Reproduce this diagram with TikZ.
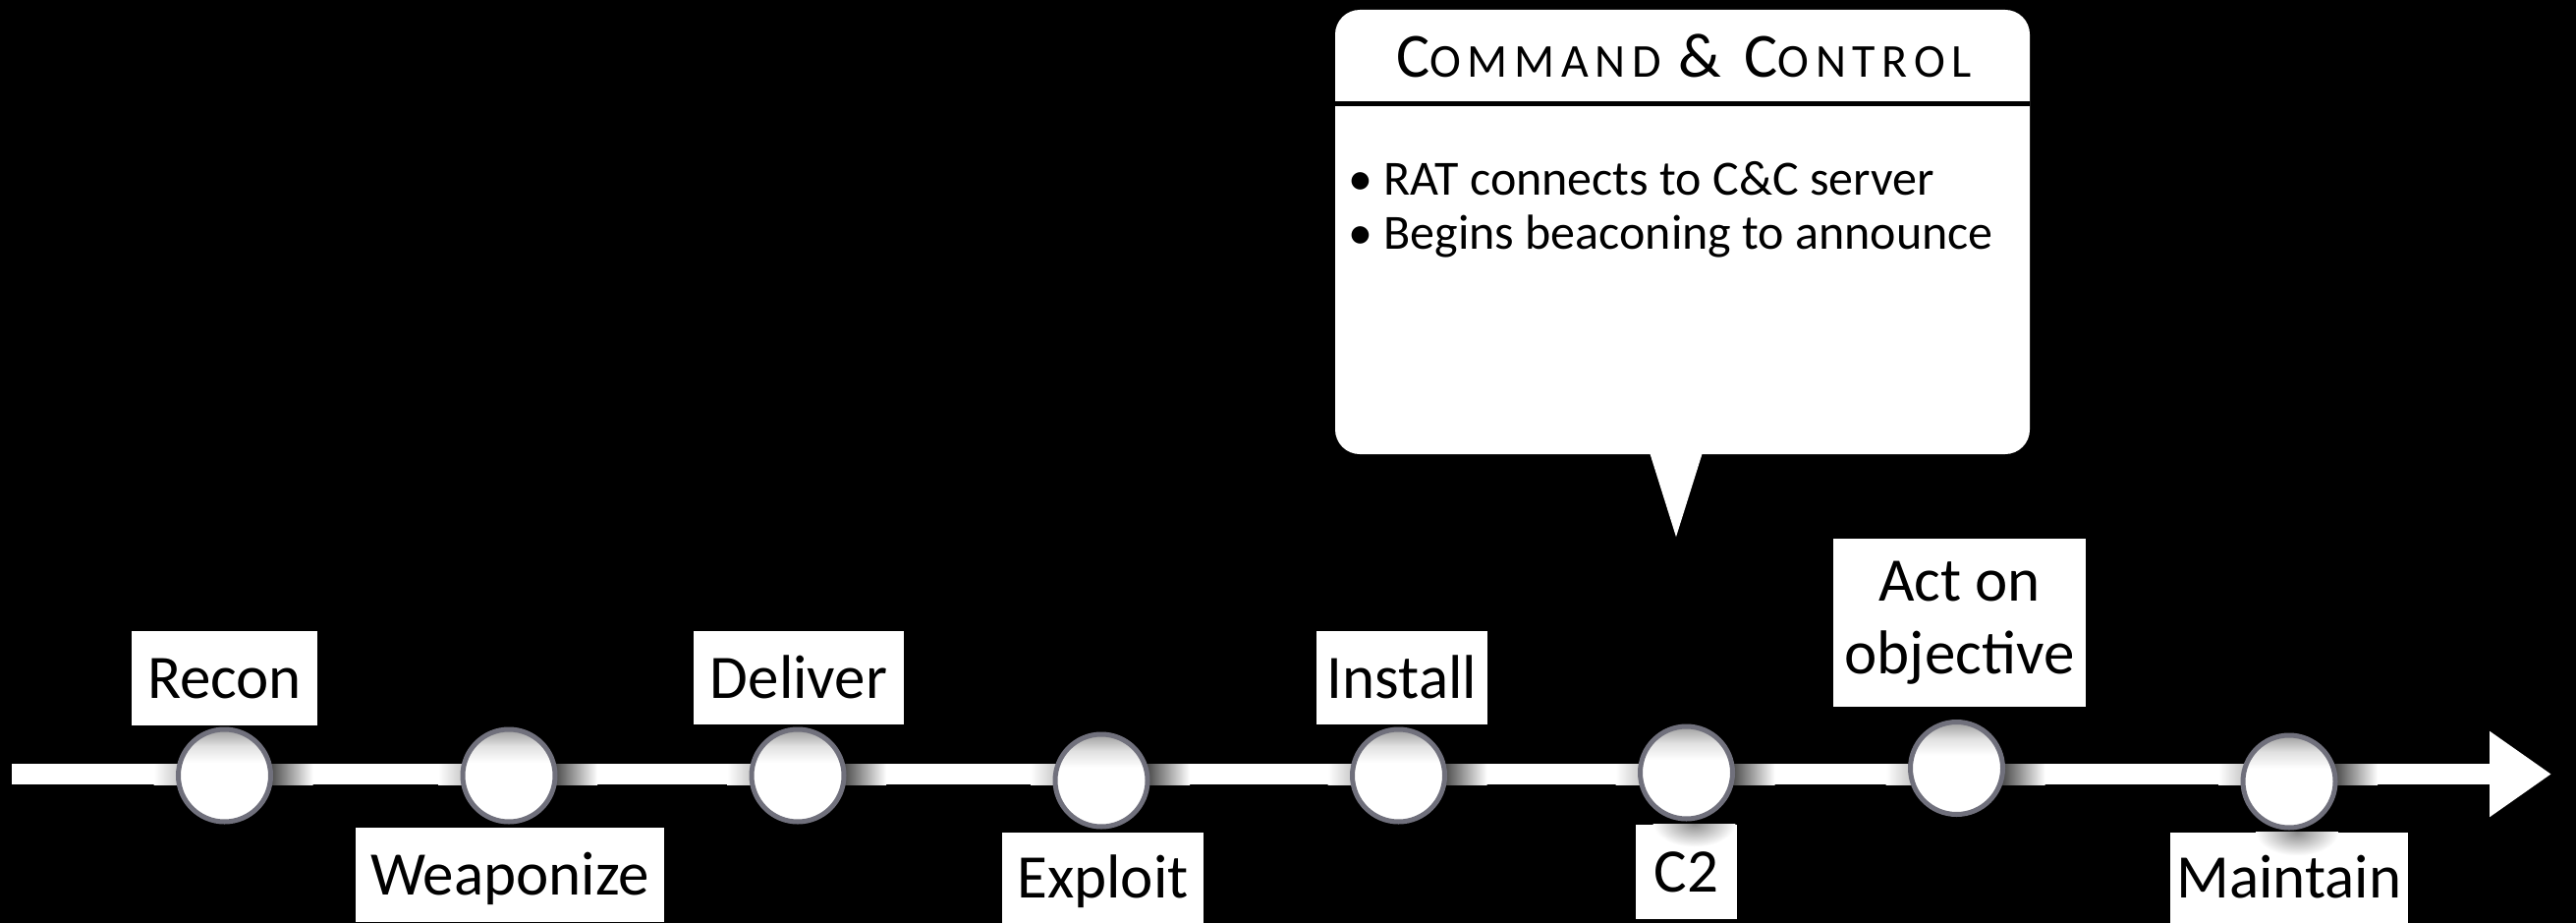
\documentclass[tikz,border=0pt]{standalone}
\usepackage{fontspec}
\setmainfont{Carlito}
\newfontfamily\titlefont[LetterSpace=14]{Carlito}
\usetikzlibrary{arrows.meta,calc}
\definecolor{ringgray}{RGB}{112,112,124}
\pgfdeclareverticalshading{circsh}{100bp}{color(0bp)=(white); color(25bp)=(white); color(57bp)=(white); color(66bp)=(black!12); color(75bp)=(black!38); color(100bp)=(black!38)}
\newcommand\lblfont{\fontsize{63}{71}\selectfont}
\newcommand\actfont{\fontsize{63}{74}\selectfont}
\newcommand\bulfont{\fontsize{50}{56}\selectfont}
\newcommand\bigcapsize{\fontsize{64}{64}\selectfont}
\newcommand\smallcapsize{\fontsize{48}{48}\selectfont}
\begin{document}
\begin{tikzpicture}[x=1pt,y=-1pt,
  lbl/.style={fill=white, inner sep=0pt, text height=41pt, text depth=0pt, font=\lblfont, text=black},
  stage/.style={circle, draw=ringgray, line width=5pt, minimum size=94pt, inner sep=0pt, shade, shading=circsh},
  bullet/.style={anchor=base west, inner sep=0pt, font=\bulfont, text=black}]
% background
\fill[black] (0,0) rectangle (2622,939);
% timeline
\coordinate (tstart) at (12,787.5);
\coordinate (tend) at (2597,787.5);
\draw[white, line width=21pt, -{Triangle[length=63pt,width=83pt]}] (tstart) -- (tend);
% stages
\foreach \n/\x/\y in {recon/228.5/789, weap/518/789, deliv/812/789, expl/1121/794, inst/1423.5/789, ctwo/1716.5/786, act/1991.5/781.5, maint/2330/795}{
  \shade[left color=black!72, right color=white] (\x+46,777) rectangle (\x+90,798);
  \shade[left color=white, right color=black!22] (\x-72,777) rectangle (\x-46,798);
  \node[stage] (\n) at (\x,\y) {};
}
% labels
\node[lbl, minimum width=189pt, minimum height=96pt] (lrecon) at (228.5,690) {Recon};
\node[lbl, minimum width=314pt, minimum height=96pt] (lweap) at (519,890) {Weaponize};
\node[lbl, minimum width=214pt, minimum height=95pt] (ldeliv) at (813,689.5) {Deliver};
\node[lbl, minimum width=205pt, minimum height=92pt] (lexpl) at (1122.5,893) {Exploit};
\node[lbl, minimum width=174pt, minimum height=95pt] (linst) at (1427,689.5) {Install};
\node[lbl, minimum width=103pt, minimum height=96pt] (lctwo) at (1716.5,887) {C2};
\node[fill=white, inner sep=0pt, minimum width=257pt, minimum height=171pt, font=\actfont, align=center, text=black] (lact) at (1994.5,633.5) {\raisebox{-9pt}{Act on}\\\raisebox{-9pt}{objective}};
\node[lbl, minimum width=242pt, minimum height=92pt] (lmaint) at (2330,893) {Maintain};
% soft shadows cast on the lower boxes
\begin{scope}
  \clip (lctwo.north west) rectangle (lctwo.south east);
  \shade[inner color=black!45, outer color=white] ($(ctwo.south)+(8,2)$) ellipse [x radius=42pt, y radius=24pt];
\end{scope}
\begin{scope}
  \clip (lmaint.north west) rectangle (lmaint.south east);
  \shade[inner color=black!45, outer color=white] ($(maint.south)+(8,2)$) ellipse [x radius=42pt, y radius=24pt];
\end{scope}
% callout
\node[fill=white, rounded corners=25pt, minimum width=707pt, minimum height=452pt, inner sep=0pt] (callout) at (1712.5,236) {};
\fill[white] ($(callout.south)+(-33.5,-2)$) -- ($(callout.south)+(-6.5,84)$) -- ($(callout.south)+(20.5,-2)$) -- cycle;
\coordinate (divy) at (0,105.5);
\draw[black, line width=5pt] (callout.west |- divy) -- (callout.east |- divy);
\node[anchor=base, inner sep=0pt, text=black] (title) at (1714,78) {\titlefont\bigcapsize C\smallcapsize OMMAND \bigcapsize\& C\smallcapsize ONTROL};
\node[bullet] (b1) at (1372,198) {• RAT connects to C\&C server};
\node[bullet] (b2) at (1372,253) {• Begins beaconing to announce};
\end{tikzpicture}
\end{document}
